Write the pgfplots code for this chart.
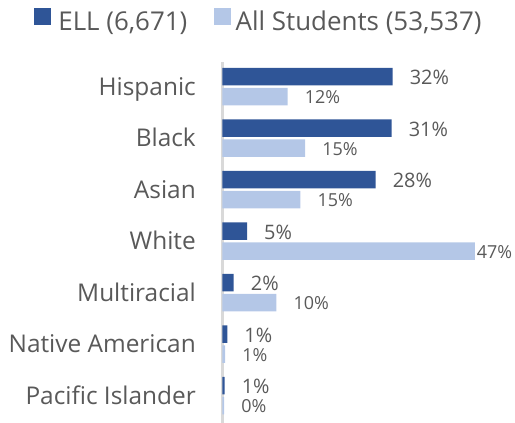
\documentclass[border=0pt]{standalone}
\usepackage{fontspec}
\setmainfont{Open Sans}
\usepackage{pgfplots}
\pgfplotsset{compat=1.18}
\definecolor{ellblue}{HTML}{2F5597}
\definecolor{allblue}{HTML}{B4C7E7}
\definecolor{txtgray}{HTML}{595959}
\definecolor{axgray}{HTML}{D9D9D9}
\begin{document}
\begin{tikzpicture}
\useasboundingbox (-222.5bp,0) rectangle (292.5bp,423bp);
\begin{axis}[
  at={(0,0)}, anchor=south west,
  scale only axis, width=288bp, height=361bp,
  xbar, xmin=0, xmax=54, ymin=-0.476, ymax=6.534, y dir=reverse,
  hide x axis, axis y line=left,
  y axis line style={-, draw=axgray, line width=2.5bp},
  ytick={0,...,6},
  yticklabels={Hispanic,Black,Asian,White,Multiracial,Native American,Pacific Islander},
  major tick length=0pt, ytick style={draw=none},
  yticklabel style={anchor=base east, inner sep=0pt, xshift=-26.5bp, yshift=-8.6bp,
    font=\fontsize{24.5}{28}\selectfont, text=txtgray},
  bar width=17.5bp,
  clip=false,
  point meta=explicit symbolic,
  legend columns=2,
  legend style={draw=none, fill=none, at={(-0.6545,1.1155)}, anchor=west,
    inner sep=0pt, outer sep=0pt,
    nodes={inner sep=0pt, text=txtgray, font=\fontsize{26}{30}\selectfont},
    /tikz/every even column/.append style={column sep=27bp}},
  legend cell align=left,
]
\addlegendimage{legend image code/.code={\fill[ellblue] (0bp,-3bp) rectangle (16bp,13bp); \path (24bp,0bp);}}
\addlegendentry{ELL (6,671)}
\addlegendimage{legend image code/.code={\fill[allblue] (0bp,-3bp) rectangle (16bp,13bp); \path (21bp,0bp);}}
\addlegendentry{All Students (53,537)}

\addplot[forget plot, fill=ellblue, draw=none, bar shift=10bp, nodes near coords,
  every node near coord/.append style={anchor=base west, inner sep=0pt, xshift=17bp, yshift=-8bp,
    font=\fontsize{20}{24}\selectfont, text=txtgray}]
coordinates {(31.9,0) [32\%] (31.7,1) [31\%] (28.7,2) [28\%] (4.6,3) [5\%] (2.1,4) [2\%] (0.9,5) [1\%] (0.4,6) [1\%]};

\addplot[forget plot, fill=allblue, draw=none, bar shift=-10bp, nodes near coords,
  visualization depends on={rawx \as \rx},
  every node near coord/.append style={anchor=base west, inner sep=0pt, xshift={(\rx>40 ? 2 : 17)*1bp}, yshift=-7bp,
    font=\fontsize{18}{22}\selectfont, text=txtgray}]
coordinates {(12.2,0) [12\%] (15.5,1) [15\%] (14.6,2) [15\%] (47.3,3) [47\%] (10.1,4) [10\%] (0.5,5) [1\%] (0.3,6) [0\%]};
\end{axis}
\end{tikzpicture}
\end{document}
